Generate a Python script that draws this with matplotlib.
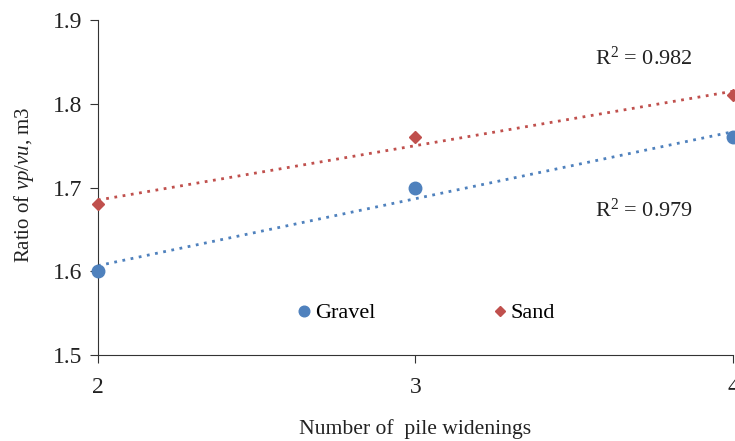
import numpy as np
import matplotlib
matplotlib.use("Agg")
import matplotlib.pyplot as plt

plt.rcParams['font.family'] = ['Liberation Serif', 'DejaVu Serif']
plt.rcParams['mathtext.fontset'] = 'custom'
plt.rcParams['mathtext.rm'] = 'Liberation Serif'
plt.rcParams['mathtext.it'] = 'Liberation Serif:italic'

x_vals = [2, 3, 4]
gravel = [1.60, 1.70, 1.76]
sand = [1.68, 1.76, 1.81]
r2_gravel = "R$^2$ = 0.979"
r2_sand = "R$^2$ = 0.982"
blue = '#4F81BD'
red = '#C0504D'

fig = plt.figure(figsize=(7.35, 4.41), dpi=100)
ax = fig.add_axes([0.1333, 0.195, 0.864, 0.7596])

x = np.array(x_vals, dtype=float)
for ys, c, m, ms, lab in [(gravel, blue, 'o', 9, 'Gravel'), (sand, red, 'D', 6.5, 'Sand')]:
    ax.plot(x, ys, linestyle='none', marker=m, color=c, markersize=ms, label=lab, clip_on=False, zorder=3)
    p = np.polyfit(x, ys, 1)
    xx = np.array([x.min(), x.max()])
    ax.plot(xx, np.polyval(p, xx), linestyle=(0, (1, 2)), color=c, linewidth=2, clip_on=False)

ax.set_xlim(2, 4)
ax.set_ylim(1.5, 1.9)
ax.set_xticks([2, 3, 4])
ax.set_yticks([1.5, 1.6, 1.7, 1.8, 1.9])
ax.set_yticklabels(['1.5', '1.6', '1.7', '1.8', '1.9'])
for s in ['top', 'right']:
    ax.spines[s].set_visible(False)
for s in ['left', 'bottom']:
    ax.spines[s].set_color('#333333')
ax.tick_params(axis='both', direction='out', length=6, labelsize=17, colors='#333333', labelcolor='#222222')
ax.tick_params(axis='x', pad=10)
ax.tick_params(axis='y', pad=5)

ax.text(3.72, 1.855, r2_sand, fontsize=16, ha='center', va='center', color='#222222')
ax.text(3.72, 1.673, r2_gravel, fontsize=16, ha='center', va='center', color='#222222')

ax.set_xlabel('Number of  pile widenings', fontsize=15.6, color='#222222')
ax.xaxis.set_label_coords(0.5, -0.19)
ax.set_ylabel(r'Ratio of $\mathit{vp/vu}$, m3', fontsize=15, color='#222222')
ax.yaxis.set_label_coords(-0.098, 0.507)

leg = ax.legend(loc='center', bbox_to_anchor=(0.517, 0.125), ncol=2, frameon=False,
                fontsize=16, handlelength=0.6, handletextpad=0.2, columnspacing=5.3,
                markerscale=0.85)

fig.savefig('out.png', dpi=100)
